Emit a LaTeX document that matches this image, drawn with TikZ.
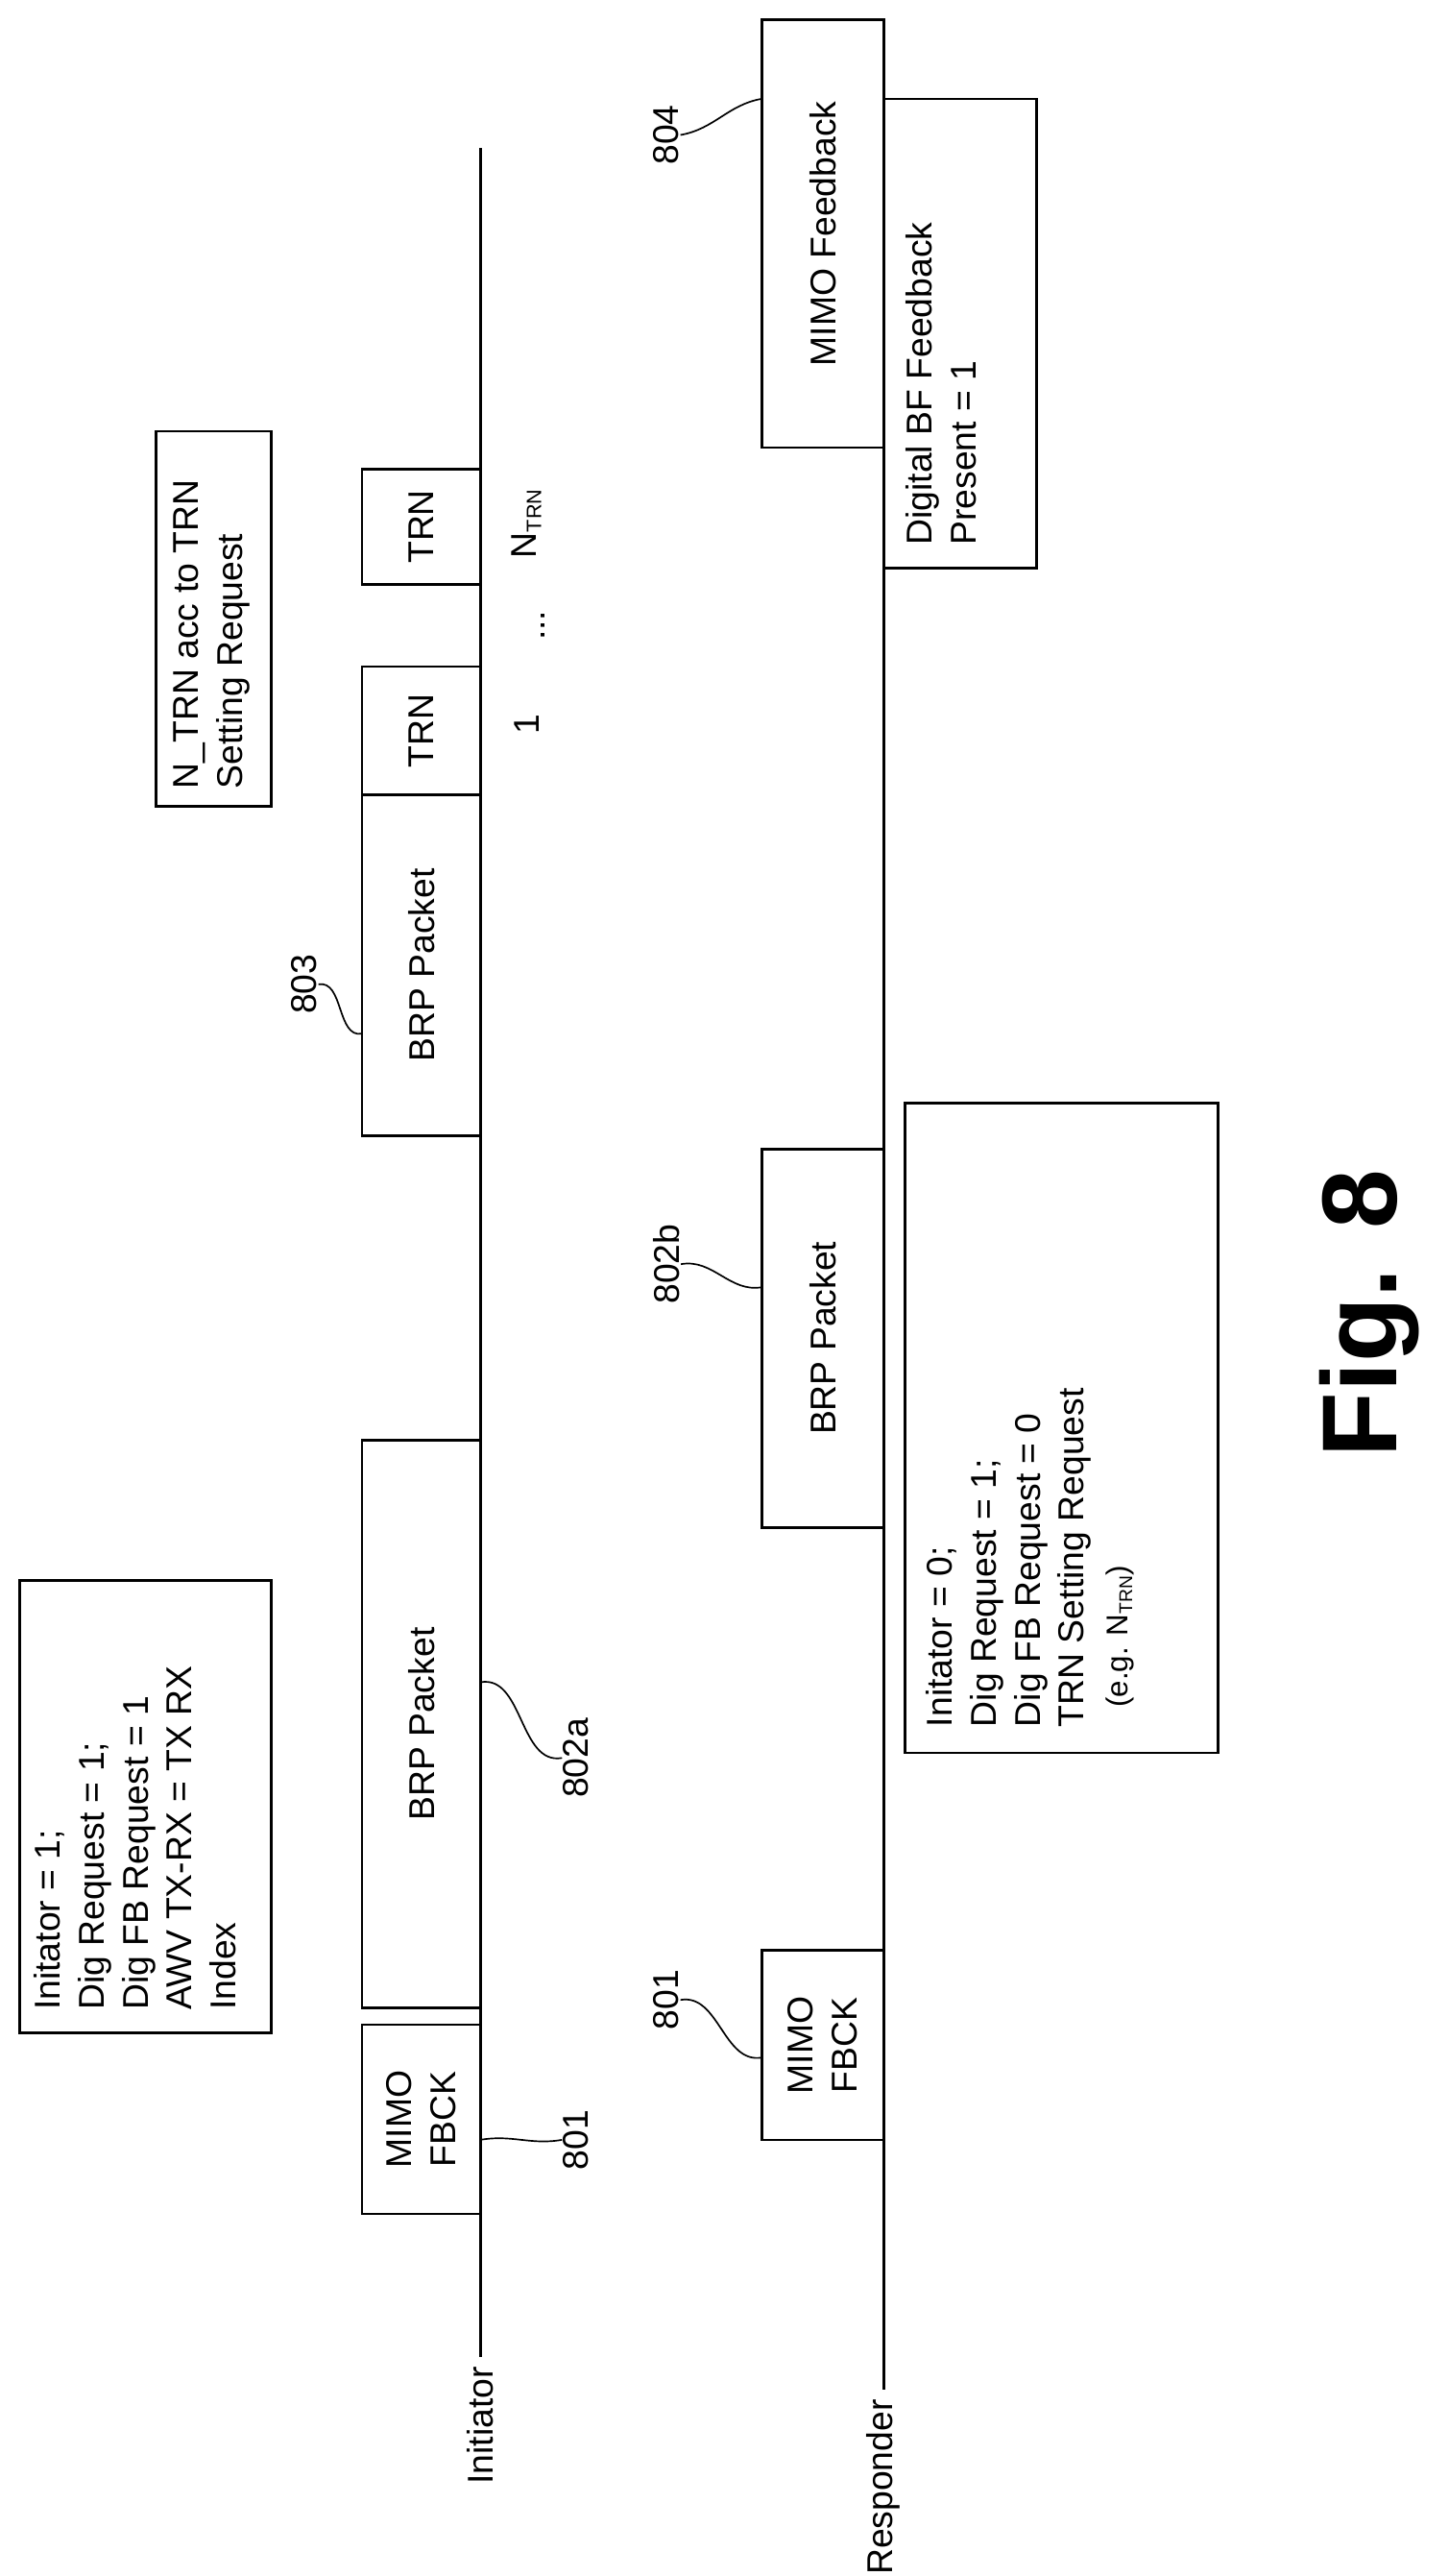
\documentclass[tikz,border=0pt]{standalone}
\usepackage{fontspec}
\setmainfont{Liberation Sans}
\usetikzlibrary{fit}
\begin{document}
\begin{tikzpicture}[x=0.05cm,y=-0.05cm,line width=2.2pt]
	\tikzstyle{box}=[draw,inner sep=0pt,fill=white]
	\tikzstyle{txt}=[rotate=90,font=\fontsize{31}{38}\selectfont,inner sep=0pt]
	\tikzstyle{lst}=[txt,align=left,anchor=north west]
	\tikzstyle{num}=[txt]
	\tikzstyle{sq}=[out=10,in=190,line width=1.4pt]
	\useasboundingbox (0,0) rectangle (880,1565);
	
	% time lines
	\coordinate (iTop) at (292,90);
	\coordinate (iBot) at (292,1432);
	\coordinate (rTop) at (537,12);
	\coordinate (rBot) at (537,1452);
	\draw (iTop) -- (iBot);
	\draw (rTop) -- (rBot);
	\node[txt,anchor=east] (init) at (292,1437) {Initiator};
	\node[txt,anchor=east] (resp) at (537,1457) {Responder};
	
	% initiator side
	\node[box,fit={(220,1230) (292,1345)}] (mimoA) {};
	\node[txt,align=center] at (mimoA.center) {MIMO\\FBCK};
	\node[box,fit={(220,875) (292,1220)}] (brpA) {};
	\node[txt] at (brpA.center) {BRP Packet};
	\node[box,fit={(220,483) (292,690)}] (brpC) {};
	\node[txt] at (brpC.center) {BRP Packet};
	\node[box,fit={(220,405) (292,483)}] (trnA) {};
	\node[txt] at (trnA.center) {TRN};
	\node[box,fit={(220,285) (292,355)}] (trnB) {};
	\node[txt] at (trnB.center) {TRN};
	\node[txt] (one) at (320,440) {1};
	\node[txt] (dots) at (330,380) {...};
	\node[txt] (ntrn) at (320,318) {N\textsubscript{\fontsize{18}{20}\selectfont TRN}};
	
	\node[box,fit={(95,262) (165,490)}] (ntrnBox) {};
	\node[lst] at (105,480) {N\_TRN acc to TRN\\Setting Request};
	\node[box,fit={(12,960) (165,1235)}] (reqA) {};
	\node[lst] at (20,1222) {Initator = 1;\\Dig Request = 1;\\Dig FB Request = 1\\AWV TX-RX = TX RX\\Index};
	
	% responder side
	\node[box,fit={(463,1185) (537,1300)}] (mimoB) {};
	\node[txt,align=center] at (mimoB.center) {MIMO\\FBCK};
	\node[box,fit={(463,698) (537,928)}] (brpB) {};
	\node[txt] at (brpB.center) {BRP Packet};
	\node[box,fit={(463,12) (537,272)}] (mimoFb) {};
	\node[txt] at (mimoFb.center) {MIMO Feedback};
	\node[box,fit={(537,60) (630,345)}] (digBox) {};
	\node[lst] at (550,332) {Digital BF Feedback\\Present = 1};
	\node[box,fit={(550,670) (740,1065)}] (reqB) {};
	\node[lst] at (562,1050) {Initator = 0;\\Dig Request = 1;\\Dig FB Request = 0\\TRN Setting Request\\\hspace*{0.6cm}{\fontsize{26}{30}\selectfont(e.g. N\textsubscript{\fontsize{16}{18}\selectfont TRN})}};
	
	% reference numerals
	\node[num] (l801a) at (350,1300) {801};
	\node[num] (l802a) at (350,1068) {802a};
	\node[num] (l803) at (185,598) {803};
	\node[num] (l801b) at (405,1215) {801};
	\node[num] (l802b) at (405,768) {802b};
	\node[num] (l804) at (405,82) {804};
	\coordinate (p801a) at (292,1300);
	\coordinate (p802a) at (292,1022);
	\coordinate (p803) at (220,628);
	\coordinate (p801b) at (463,1250);
	\coordinate (p802b) at (463,782);
	\coordinate (p804) at (463,60);
	\draw[sq] (p801a) to (l801a.north);
	\draw[sq] (p802a) to (l802a.north);
	\draw[sq] (l803.south) to (p803);
	\draw[sq] (l801b.south) to (p801b);
	\draw[sq] (l802b.south) to (p802b);
	\draw[sq] (l804.south) to (p804);
	
	\node[rotate=90,font=\fontsize{92}{100}\selectfont\bfseries] (fig) at (832,798) {Fig. 8};
\end{tikzpicture}
\end{document}
